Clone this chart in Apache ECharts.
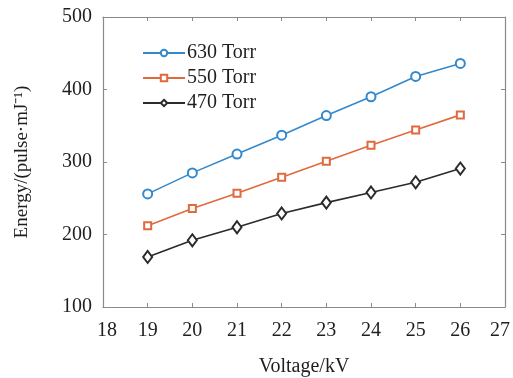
<!DOCTYPE html>
<html>
<head>
<meta charset="utf-8">
<script src="https://cdn.jsdelivr.net/npm/echarts@6/dist/echarts.min.js"></script>
<style>
  html, body { margin: 0; padding: 0; background: #fff; }
  #chart { width: 513px; height: 378px; }
</style>
</head>
<body>
<div id="chart"></div>
<script>
// Pulse energy versus discharge voltage at three gas pressures
const voltages = [19, 20, 21, 22, 23, 24, 25, 26];
const energy630 = [256, 285, 311, 337, 364, 390, 418, 436];
const energy550 = [212, 236, 257, 279, 301, 323, 344, 365];
const energy470 = [169, 192, 210, 229, 244, 258, 272, 291];
const seriesNames = ['630 Torr', '550 Torr', '470 Torr'];
const xTicks = [18, 19, 20, 21, 22, 23, 24, 25, 26, 27];
const yTicks = [100, 200, 300, 400, 500];

const FONT = '"Liberation Serif", "Times New Roman", serif';
const AXIS_COLOR = '#8a8a8a';
const TEXT_COLOR = '#1f1f1f';

const pairs = (ys) => voltages.map((v, i) => [v, ys[i]]);

const chart = echarts.init(document.getElementById('chart'), null, { renderer: 'canvas' });

const baseX = {
  type: 'value',
  min: xTicks[0], max: xTicks[xTicks.length - 1], interval: 1,
  axisLine: { show: true, onZero: false, lineStyle: { color: AXIS_COLOR, width: 1.2 } },
  axisTick: { show: true, inside: true, length: 4, lineStyle: { color: AXIS_COLOR } },
  splitLine: { show: false }
};
const baseY = {
  type: 'value',
  min: yTicks[0], max: yTicks[yTicks.length - 1], interval: 100,
  axisLine: { show: true, onZero: false, lineStyle: { color: AXIS_COLOR, width: 1.2 } },
  axisTick: { show: true, inside: true, length: 4, lineStyle: { color: AXIS_COLOR } },
  splitLine: { show: false }
};

// the first and last tick labels are nudged inward so they stay on the canvas
const tickText = { fontFamily: FONT, fontSize: 20, color: TEXT_COLOR };
const xLabelFormatter = (v) => {
  if (v === xTicks[0]) return '{first|' + v + '}';
  if (v === xTicks[xTicks.length - 1]) return '{last|' + v + '}';
  return String(v);
};

chart.setOption({
  animation: false,
  backgroundColor: '#fff',
  textStyle: { fontFamily: FONT },
  grid: {
    left: 103, right: 8, top: 17, bottom: 71,
    containLabel: false, outerBoundsMode: 'none'
  },
  legend: {
    left: 137, top: 38, orient: 'vertical',
    itemWidth: 42, itemHeight: 8, itemGap: 5,
    textStyle: { fontFamily: FONT, fontSize: 20, color: TEXT_COLOR, padding: [0, 0, 0, -3] },
    data: seriesNames
  },
  xAxis: [
    Object.assign({}, baseX, {
      position: 'bottom',
      name: 'Voltage/kV', nameLocation: 'middle', nameGap: 50,
      nameTextStyle: { fontFamily: FONT, fontSize: 20, color: TEXT_COLOR },
      axisLabel: Object.assign({}, tickText, {
        margin: 14,
        formatter: xLabelFormatter,
        rich: {
          first: Object.assign({}, tickText, { padding: [0, 0, 0, 8] }),
          last: Object.assign({}, tickText, { padding: [0, 10, 0, 0] })
        }
      })
    }),
    Object.assign({}, baseX, { position: 'top', axisLabel: { show: false } })
  ],
  yAxis: [
    Object.assign({}, baseY, {
      position: 'left',
      name: 'Energy/(pulse·mJ⁻¹)', nameLocation: 'middle', nameGap: 71, nameRotate: 90,
      nameTextStyle: { fontFamily: FONT, fontSize: 19, color: TEXT_COLOR },
      axisLabel: Object.assign({}, tickText, { margin: 11 })
    }),
    Object.assign({}, baseY, { position: 'right', axisLabel: { show: false } })
  ],
  series: [
    {
      name: seriesNames[0], type: 'line', data: pairs(energy630),
      symbol: 'emptyCircle', symbolSize: 9,
      lineStyle: { color: '#3389cc', width: 1.6 },
      itemStyle: { color: '#3389cc', borderWidth: 1.1 }
    },
    {
      name: seriesNames[1], type: 'line', data: pairs(energy550),
      symbol: 'emptyRect', symbolSize: 7,
      lineStyle: { color: '#e06a3c', width: 1.6 },
      itemStyle: { color: '#e06a3c', borderWidth: 1.1 }
    },
    {
      name: seriesNames[2], type: 'line', data: pairs(energy470),
      symbol: 'emptyDiamond', symbolSize: [9, 12],
      lineStyle: { color: '#2b2b2b', width: 1.6 },
      itemStyle: { color: '#2b2b2b', borderWidth: 1.1 }
    }
  ]
});
</script>
</body>
</html>
